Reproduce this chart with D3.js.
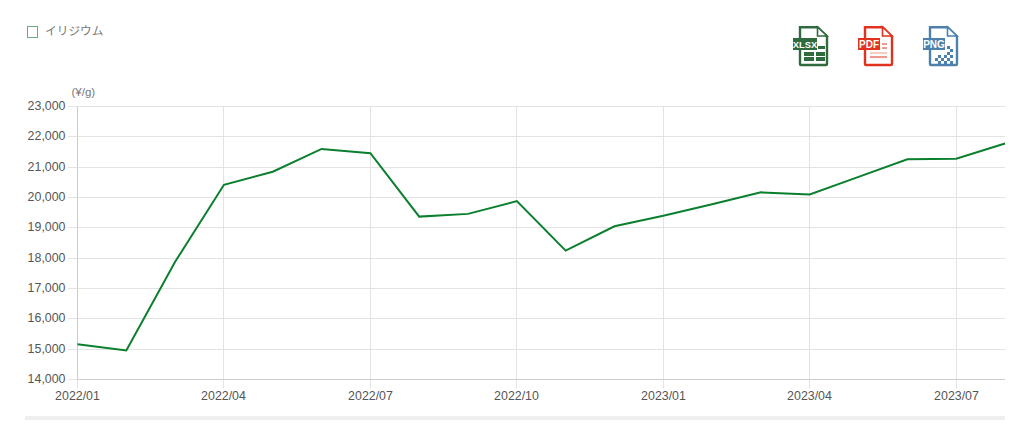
<!DOCTYPE html>
<html>
<head>
<meta charset="utf-8">
<style>
html, body { margin: 0; padding: 0; background: #fff; overflow: hidden; }
svg { display: block; }
text { font-family: "Liberation Sans", Arial, sans-serif; }
</style>
<script src="https://cdn.jsdelivr.net/npm/d3@7"></script>
</head>
<body>
<script>
var w = 1023;
var h = 437;

var months = ["2022/01","2022/02","2022/03","2022/04","2022/05","2022/06","2022/07","2022/08","2022/09","2022/10","2022/11","2022/12","2023/01","2023/02","2023/03","2023/04","2023/05","2023/06","2023/07","2023/08"];
var prices = [15160,14960,17880,20420,20850,21600,21460,19370,19460,19880,18250,19050,19400,19780,20170,20100,20680,21260,21280,21780];
var xTicks = ["2022/01","2022/04","2022/07","2022/10","2023/01","2023/04","2023/07"];
var yTicks = [14000,15000,16000,17000,18000,19000,20000,21000,22000,23000];
var seriesName = "イリジウム";
var unitLabel = "(¥/g)";

var svg = d3.select("body").append("svg")
	.attr("width", w)
	.attr("height", h);

var x = d3.scalePoint().domain(months).range([77.5, 1005]);
var y = d3.scaleLinear().domain([14000, 23000]).range([379.5, 106.5]);

// keep the thin lines on whole pixels
function snap(v){
	return Math.floor(v) + 0.5;
}

// grid
svg.append("g").selectAll("line")
	.data(yTicks.slice(1))
	.enter().append("line")
	.attr("x1", 68).attr("x2", 1005)
	.attr("y1", function(d){ return snap(y(d)); })
	.attr("y2", function(d){ return snap(y(d)); })
	.attr("stroke", "#e3e3e3");

svg.append("g").selectAll("line")
	.data(xTicks.slice(1))
	.enter().append("line")
	.attr("x1", function(d){ return snap(x(d)); })
	.attr("x2", function(d){ return snap(x(d)); })
	.attr("y1", 106).attr("y2", 388)
	.attr("stroke", "#e3e3e3");

// axes
var yAxis = svg.append("g")
	.attr("transform", "translate(77.5,0)")
	.call(d3.axisLeft(y).offset(0).tickValues(yTicks).tickSize(9).tickSizeOuter(0).tickPadding(3).tickFormat(d3.format(",")));
yAxis.selectAll(".tick").attr("transform", function(d){ return "translate(0," + snap(y(d)) + ")"; });
yAxis.select(".domain").attr("stroke", "#ccc");
yAxis.selectAll("line").attr("stroke", "#e3e3e3");
yAxis.selectAll("text").attr("fill", "#555").style("font-size", "12.4px");

var xAxis = svg.append("g")
	.attr("transform", "translate(0,379.5)")
	.call(d3.axisBottom(x).offset(0).tickValues(xTicks).tickSize(9).tickSizeOuter(0).tickPadding(3));
xAxis.selectAll(".tick").attr("transform", function(d){ return "translate(" + snap(x(d)) + ",0)"; });
xAxis.select(".domain").attr("stroke", "#ccc");
xAxis.selectAll("line").attr("stroke", "#e3e3e3");
xAxis.selectAll("text").attr("fill", "#555").style("font-size", "12.4px");

// line
var line = d3.line()
	.x(function(d, i){ return x(months[i]); })
	.y(function(d){ return y(d); });

svg.append("path")
	.datum(prices)
	.attr("d", line)
	.attr("fill", "none")
	.attr("stroke", "#0a7f2e")
	.attr("stroke-width", 2);

// unit
svg.append("text")
	.attr("x", 71.5).attr("y", 96)
	.attr("fill", "#777")
	.style("font-size", "11.5px")
	.text(unitLabel);

// legend
svg.append("rect")
	.attr("x", 27.5).attr("y", 26.5)
	.attr("width", 10).attr("height", 11)
	.attr("fill", "#fff")
	.attr("stroke", "#6aab7f");
svg.append("text")
	.attr("x", 45).attr("y", 35)
	.attr("fill", "#777")
	.style("font-family", "'Noto Sans CJK JP'")
	.style("font-size", "11.7px")
	.text(seriesName);

// bottom bar
svg.append("rect")
	.attr("x", 25).attr("y", 416)
	.attr("width", 980).attr("height", 4)
	.attr("fill", "#eeeeee");

// file icons
function fileIcon(left, color, label, labelW, fontSize) {
	var g = svg.append("g").attr("transform", "translate(" + left + ",26)");
	g.append("path")
		.attr("d", "M7,1.2 H24.5 L34,10.5 V38 Q34,39 33,39 H8 Q7,39 7,38 Z")
		.attr("fill", "#fff")
		.attr("stroke", color)
		.attr("stroke-width", 2.4);
	g.append("path")
		.attr("d", "M24.5,1 L24.5,10 L34,10 Z")
		.attr("fill", "#fff")
		.attr("stroke", color)
		.attr("stroke-width", 1.6);
	g.append("rect")
		.attr("x", 0).attr("y", 12)
		.attr("width", labelW).attr("height", 12)
		.attr("fill", color);
	g.append("text")
		.attr("x", labelW / 2).attr("y", 21.8)
		.attr("text-anchor", "middle")
		.attr("fill", "#fff")
		.style("font-weight", "bold")
		.style("font-size", fontSize + "px")
		.text(label);
	return g;
}

var xlsx = fileIcon(793, "#2f6b3f", "XLSX", 24, 9.4);
xlsx.selectAll("rect.cell")
	.data([[25,20,7,3],[11,26,10,4],[23,26,9,4],[11,31,10,4],[23,31,9,4]])
	.enter().append("rect").attr("class", "cell")
	.attr("x", function(d){ return d[0]; })
	.attr("y", function(d){ return d[1]; })
	.attr("width", function(d){ return d[2]; })
	.attr("height", function(d){ return d[3]; })
	.attr("fill", "#2f6b3f");

var pdf = fileIcon(858, "#e0321c", "PDF", 22, 10);
pdf.selectAll("line.row")
	.data([[24,29,18,1],[24,29,22,1],[12,29,27,.5],[12,29,31,1]])
	.enter().append("line").attr("class", "row")
	.attr("x1", function(d){ return d[0]; })
	.attr("x2", function(d){ return d[1]; })
	.attr("y1", function(d){ return d[2]; })
	.attr("y2", function(d){ return d[2]; })
	.attr("stroke", "#e0321c")
	.attr("stroke-opacity", function(d){ return d[3]; });

var png = fileIcon(923, "#4d81ad", "PNG", 22, 10);
png.selectAll("rect.px")
	.data([[24,20],[27,23],[24,26],[27,29],[21,29],[15,29],[18,32],[24,32],[12,32],[15,35],[21,35],[27,35]])
	.enter().append("rect").attr("class", "px")
	.attr("x", function(d){ return d[0]; })
	.attr("y", function(d){ return d[1]; })
	.attr("width", 3).attr("height", 3)
	.attr("fill", "#4d81ad");
</script>
</body>
</html>
